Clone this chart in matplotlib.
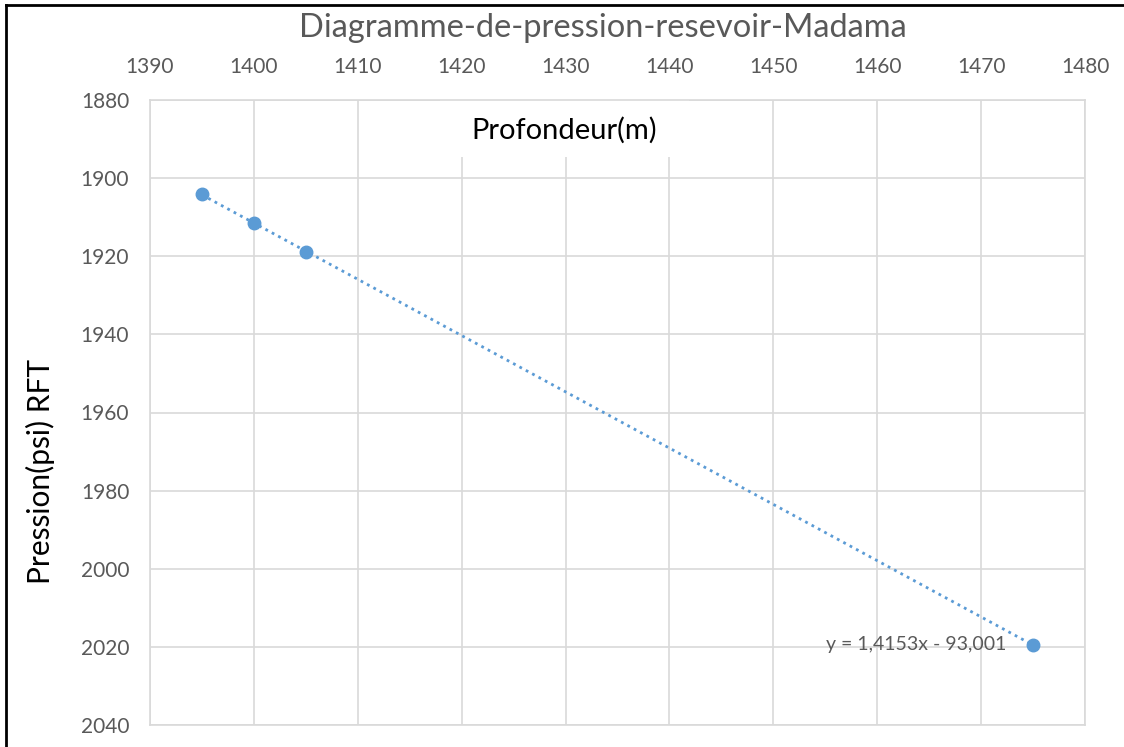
import numpy as np
import matplotlib.pyplot as plt
from matplotlib.lines import Line2D
from matplotlib.patches import Rectangle

# depth (m) vs RFT pressure (psi)
profondeur = np.array([1395.0, 1400.0, 1405.0, 1475.0])
pression = np.array([1904.0, 1911.5, 1919.0, 2019.5])

x_ticks = np.arange(1390, 1481, 10)
y_ticks = np.arange(1880, 2041, 20)

title = "Diagramme-de-pression-resevoir-Madama"
equation = "y = 1,4153x - 93,001"

blue = "#5B9BD5"
grid_col = "#D9D9D9"
text_gray = "#595959"

plt.rcParams["font.family"] = ["Lato", "DejaVu Sans"]

fig = plt.figure(figsize=(11.24, 7.47), dpi=100)
ax = fig.add_axes([150 / 1124, 1 - 725 / 747, (1085 - 150) / 1124, (725 - 100) / 747])

# linear trendline (Excel style, dotted)
coef = np.polyfit(profondeur, pression, 1)
xt = np.array([profondeur.min(), profondeur.max()])
ax.plot(xt, np.polyval(coef, xt), ls=(0, (1, 1.6)), lw=2, color=blue, zorder=3)
ax.plot(profondeur, pression, "o", ms=9, color=blue, zorder=4)

ax.set_xlim(1390, 1480)
ax.set_ylim(2040, 1880)
ax.set_xticks(x_ticks)
ax.set_yticks(y_ticks)
ax.xaxis.tick_top()
ax.tick_params(length=0, labelsize=15, colors=text_gray)
ax.tick_params(axis="x", pad=16.5)
ax.tick_params(axis="y", pad=15)
ax.grid(True, color=grid_col, lw=1.2, zorder=0)
ax.set_axisbelow(True)
for s in ax.spines.values():
    s.set_color(grid_col)
    s.set_linewidth(1.2)

# white box behind the x axis title (hides the gridlines, not the frame)
ax.add_patch(Rectangle((0.31, 0.9088), 0.267, 0.0912, transform=ax.transAxes,
                       facecolor="white", edgecolor="none", zorder=1))
ax.text(0.4425, 0.952, "Profondeur(m)", transform=ax.transAxes, ha="center", va="center",
        fontsize=21, color="black", zorder=5)
fig.text(40 / 1124, 1 - 472 / 747, "Pression(psi) RFT", rotation=90, ha="center", va="center",
         fontsize=21.5, color="black")
fig.text(603 / 1124, 1 - 28 / 747, title, ha="center", va="center", fontsize=23.5, color=text_gray)

ax.text(profondeur[-1] - 2.6, pression[-1], equation, ha="right", va="center",
        fontsize=14, color=text_gray, zorder=5)

# screenshot border (left and top only)
fig.add_artist(Line2D([6 / 1124, 6 / 1124], [0, 1 - 5 / 747], color="black", lw=2,
                      transform=fig.transFigure))
fig.add_artist(Line2D([6 / 1124, 1], [1 - 5 / 747, 1 - 5 / 747], color="black", lw=2,
                      transform=fig.transFigure))

fig.savefig("out.png", dpi=100)
